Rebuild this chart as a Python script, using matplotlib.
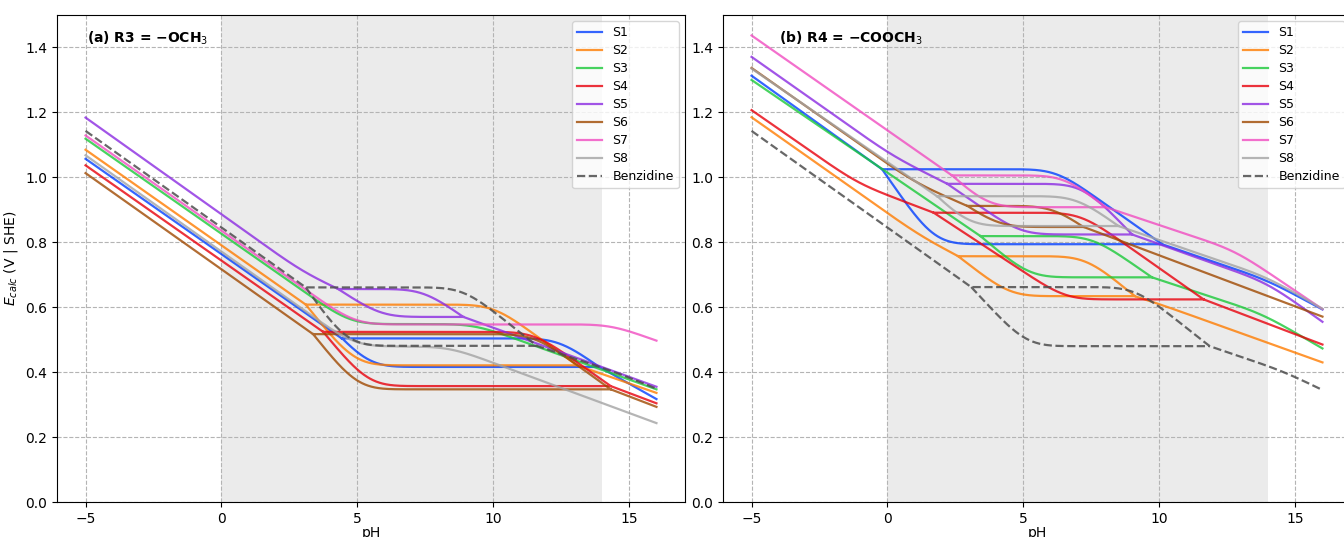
import numpy as np
import matplotlib
matplotlib.use("Agg")
import matplotlib.pyplot as plt

# ---------------- data (knots: (pH, E / V)) ----------------
LABELS = ["S1", "S2", "S3", "S4", "S5", "S6", "S7", "S8", "Benzidine"]
COLORS = ["#023eff", "#ff7c00", "#1ac938", "#e8000b", "#8b2be2",
          "#9f4800", "#f14cc1", "#a3a3a3", "#4d4d4d"]
XTICKS = [-5, 0, 5, 10, 15]
YTICKS = [0.0, 0.2, 0.4, 0.6, 0.8, 1.0, 1.2, 1.4]
TITLES = ["(a) R3 = \u2212OCH$_3$", "(b) R4 = \u2212COOCH$_3$"]

# panel (a)  R3 = -OCH3
A_S1 = dict(main=[(-5, 1.057), (4.42, 0.504)],
            up=[(4.42, 0.504), (12.4, 0.504), (13.9, 0.416)],
            low=[(4.42, 0.504), (5.4, 0.416), (13.9, 0.416)],
            tail=[(13.9, 0.416), (16, 0.317)])
A_S2 = dict(main=[(-5, 1.085), (3.1, 0.608)],
            up=[(3.1, 0.608), (10.0, 0.608), (13.08, 0.421)],
            low=[(3.1, 0.608), (4.9, 0.421), (13.08, 0.421)],
            tail=[(13.08, 0.421), (16, 0.336)])
A_S3 = dict(main=[(-5, 1.119), (4.74, 0.548), (9.3, 0.548), (16, 0.347)])
A_S4 = dict(main=[(-5, 1.037), (3.74, 0.524)],
            up=[(3.74, 0.524), (11.5, 0.524), (14.32, 0.357)],
            low=[(3.74, 0.524), (5.4, 0.357), (14.32, 0.357)],
            tail=[(14.32, 0.357), (16, 0.304)])
A_S5 = dict(main=[(-5, 1.184), (3.0, 0.707), (4.29, 0.656)],
            up=[(4.29, 0.656), (7.43, 0.656), (8.9, 0.570)],
            low=[(4.29, 0.656), (5.87, 0.570), (8.9, 0.570)],
            tail=[(8.9, 0.570), (16, 0.355)])
A_S6 = dict(main=[(-5, 1.013), (3.37, 0.517)],
            up=[(3.37, 0.517), (11.5, 0.517), (14.32, 0.347)],
            low=[(3.37, 0.517), (5.0, 0.347), (14.32, 0.347)],
            tail=[(14.32, 0.347), (16, 0.293)])
A_S7 = dict(main=[(-5, 1.129), (4.91, 0.547), (14.33, 0.547), (16, 0.497)])
A_S8 = dict(main=[(-5, 1.068), (4.9, 0.480), (8.4, 0.478), (16, 0.243)])
A_BZ = dict(main=[(-5, 1.143), (3.1, 0.661)],
            up=[(3.1, 0.661), (8.9, 0.661), (11.6, 0.481)],
            low=[(3.1, 0.661), (4.6, 0.481), (11.6, 0.481)],
            tail=[(11.6, 0.481), (14.6, 0.397), (16, 0.349)])

# panel (b)  R4 = -COOCH3
B_S1 = dict(main=[(-5, 1.313), (-0.2, 1.025)],
            up=[(-0.2, 1.025), (6.2, 1.025), (10.1, 0.794)],
            low=[(-0.2, 1.025), (1.72, 0.794), (10.1, 0.794)],
            tail=[(10.1, 0.794), (14.0, 0.683), (16, 0.593)])
B_S2 = dict(main=[(-5, 1.185), (1.2, 0.819), (2.6, 0.757)],
            up=[(2.6, 0.757), (7.3, 0.757), (9.1, 0.634)],
            low=[(2.6, 0.757), (4.5, 0.634), (9.1, 0.634)],
            tail=[(9.1, 0.634), (10.0, 0.610), (16, 0.430)])
B_S3 = dict(main=[(-5, 1.300), (3.42, 0.819)],
            up=[(3.42, 0.819), (7.54, 0.819), (9.73, 0.692)],
            low=[(3.42, 0.819), (5.23, 0.692), (9.73, 0.692)],
            tail=[(9.73, 0.692), (13.8, 0.580), (16, 0.473)])
B_S4 = dict(main=[(-5, 1.207), (-1.1, 0.980), (1.7, 0.891)],
            up=[(1.7, 0.891), (7.1, 0.891), (11.63, 0.624)],
            low=[(1.7, 0.891), (6.55, 0.624), (11.63, 0.624)],
            tail=[(11.63, 0.624), (16, 0.485)])
B_S5 = dict(main=[(-5, 1.371), (0.2, 1.064), (2.2, 0.980)],
            up=[(2.2, 0.980), (7.2, 0.980), (9.0, 0.824)],
            low=[(2.2, 0.980), (4.9, 0.824), (9.0, 0.824)],
            tail=[(9.0, 0.824), (14.0, 0.675), (16, 0.555)])
B_S6 = dict(main=[(-5, 1.337), (1.0, 0.983), (2.93, 0.912)],
            up=[(2.93, 0.912), (6.1, 0.912), (7.22, 0.847)],
            low=[(2.93, 0.912), (4.1, 0.847), (7.22, 0.847)],
            tail=[(7.22, 0.847), (16, 0.571)])
B_S7 = dict(main=[(-5, 1.437), (2.37, 1.006)],
            up=[(2.37, 1.006), (6.52, 1.006), (8.03, 0.908)],
            low=[(2.37, 1.006), (3.68, 0.908), (8.03, 0.908)],
            tail=[(8.03, 0.908), (12.8, 0.775), (16, 0.594)])
B_S8 = dict(main=[(-5, 1.335), (1.82, 0.942)],
            up=[(1.82, 0.942), (6.95, 0.942), (8.5, 0.850)],
            low=[(1.82, 0.942), (2.95, 0.850), (8.5, 0.850)],
            tail=[(8.5, 0.850), (14.0, 0.692), (16, 0.595)])
B_BZ = dict(main=[(-5, 1.143), (3.08, 0.662)],
            up=[(3.08, 0.662), (9.1, 0.662), (11.85, 0.480)],
            low=[(3.08, 0.662), (5.1, 0.480), (11.85, 0.480)],
            tail=[(11.85, 0.480), (14.6, 0.402), (16, 0.345)])

PANEL_A = [A_S1, A_S2, A_S3, A_S4, A_S5, A_S6, A_S7, A_S8, A_BZ]
PANEL_B = [B_S1, B_S2, B_S3, B_S4, B_S5, B_S6, B_S7, B_S8, B_BZ]

# ---------------- rendering helpers ----------------
SIG = 0.65      # corner rounding width (pH units)
STEP = 0.01


def branch(knots, sig=SIG):
    k = np.asarray(knots, float)
    x, y = k[:, 0], k[:, 1]
    if len(x) == 2:
        xs = np.linspace(x[0], x[1], 60)
        return xs, np.interp(xs, x, y)
    n = int(round(4 * sig / STEP))
    npts = int(round((x[-1] - x[0]) / STEP)) + 2 * n + 1
    xs = x[0] - n * STEP + np.arange(npts) * STEP
    ys = np.interp(xs, x, y)
    s0 = (y[1] - y[0]) / (x[1] - x[0])
    s1 = (y[-1] - y[-2]) / (x[-1] - x[-2])
    lo = xs < x[0]
    hi = xs > x[-1]
    ys[lo] = y[0] + s0 * (xs[lo] - x[0])
    ys[hi] = y[-1] + s1 * (xs[hi] - x[-1])
    kx = np.arange(-n, n + 1) * STEP
    ker = np.exp(-0.5 * (kx / sig) ** 2)
    ker /= ker.sum()
    sm = np.convolve(ys, ker, mode="same")
    xs_o = xs[n:npts - n]
    sm_o = sm[n:npts - n]
    sm_o[0], sm_o[-1] = y[0], y[-1]
    xs_o[0], xs_o[-1] = x[0], x[-1]
    return xs_o, sm_o


def series_path(d):
    X, Y = [], []
    for key in ("main", "up", "tail"):
        if key in d:
            bx, by = branch(d[key])
            X.append(bx)
            Y.append(by)
    if "low" in d:
        bx, by = branch(d["low"])
        X += [np.array([np.nan]), bx]
        Y += [np.array([np.nan]), by]
    return np.concatenate(X), np.concatenate(Y)


# ---------------- figure ----------------
plt.rcParams["font.family"] = ["DejaVu Sans"]
fig = plt.figure(figsize=(13.44, 5.37), dpi=100)
W, H = 1344.0, 537.0
ax_a = fig.add_axes([57 / W, 35 / H, 628 / W, 487 / H])
ax_b = fig.add_axes([723 / W, 35 / H, 628 / W, 487 / H])

for ax, panel, title, tx in ((ax_a, PANEL_A, TITLES[0], 0.048),
                             (ax_b, PANEL_B, TITLES[1], 0.089)):
    ax.axvspan(0, 14, color="#ebebeb", zorder=0, lw=0)
    ax.grid(True, linestyle="--", linewidth=0.8, color="#b4b4b4", zorder=0.5)
    ax.set_axisbelow(True)
    for d, lab, col in zip(panel, LABELS, COLORS):
        X, Y = series_path(d)
        if lab == "Benzidine":
            ax.plot(X, Y, ls="--", color=col, lw=1.6, alpha=0.85, label=lab, zorder=3)
        else:
            ax.plot(X, Y, color=col, lw=1.6, alpha=0.8, label=lab, zorder=2)
    ax.set_xlim(-6.05, 17.05)
    ax.set_ylim(0, 1.5)
    ax.set_xticks(XTICKS)
    ax.set_yticks(YTICKS)
    ax.tick_params(labelsize=10)
    ax.set_xlabel("pH", fontsize=10, labelpad=0.5)
    ax.text(tx, 0.97, title, transform=ax.transAxes, fontsize=10,
            fontweight="bold", va="top", ha="left")
    ax.legend(loc="upper right", fontsize=9, labelspacing=0.4)

ax_a.set_ylabel("$E_{calc}$ (V | SHE)", fontsize=10)

fig.savefig("out.png", dpi=100)
